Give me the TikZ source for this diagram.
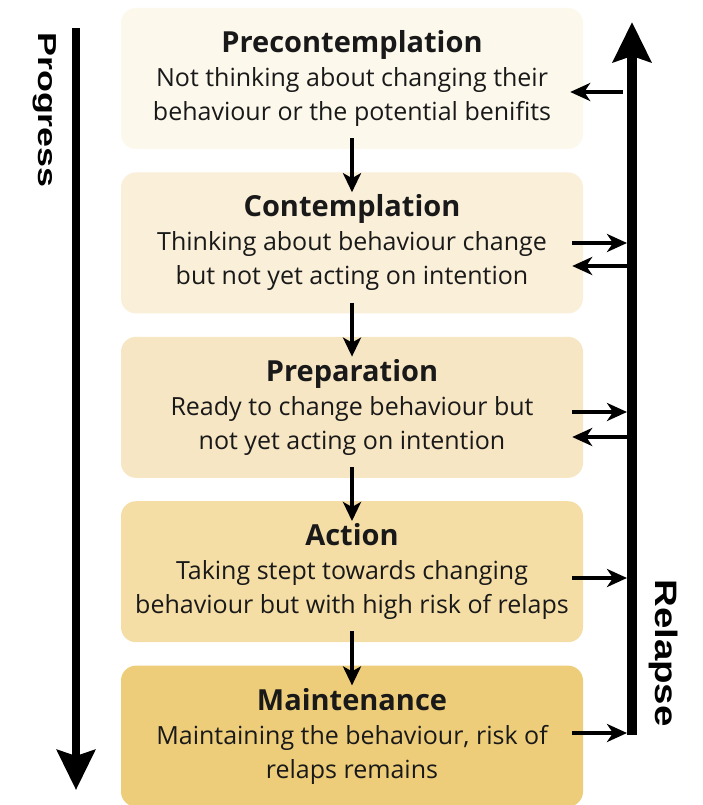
\documentclass[tikz,border=0pt]{standalone}
\usepackage{fontspec}
\setmainfont{Open Sans}
\newfontfamily\sidefont{Liberation Sans}
\usetikzlibrary{positioning}
\usetikzlibrary{calc}
\usetikzlibrary{arrows.meta}

\definecolor{stage one}{RGB}{252,248,236}
\definecolor{stage two}{RGB}{250,239,217}
\definecolor{stage three}{RGB}{247,230,195}
\definecolor{stage four}{RGB}{245,222,166}
\definecolor{stage five}{RGB}{237,205,122}
\definecolor{ink}{RGB}{25,25,25}

% Heading of a stage
\newcommand{\stagetitle}[1]{\textbf{\fontsize{29}{35}\selectfont #1}}

\tikzset{
    % One rounded box for every stage of change
    stage/.style={
        rectangle, rounded corners=15pt, inner sep=0pt, align=center,
        minimum width=462pt, minimum height=141pt, text=ink,
        font=\fontsize{25}{34}\selectfont},
%
    % Short arrows from one stage to the next
    stage arrow/.style={
        line width=4pt, -{Stealth[length=19pt, width=18pt, inset=5pt]}},
%
    % Short arrows to and from the relapse line
    side arrow/.style={
        line width=4.5pt, -{Stealth[length=20pt, width=18pt, inset=6pt]}},
%
    % The two long arrows at the sides
    long arrow/.style={
        -{Stealth[length=40pt, width=38pt, inset=6pt]}},
%
    % Rotated and stretched side labels
    side label/.style={rotate=-90, inner sep=0pt}}

\begin{document}
\begin{tikzpicture}[x=1pt, y=-1pt]
\useasboundingbox (0,0) rectangle (703,805);

% The five stages, top to bottom
\node[stage, fill=stage one] (precontemplation) at (352,78.5)
    {\stagetitle{Precontemplation}\\
     Not thinking about changing their\\
     behaviour or the potential benifits};
\node[stage, fill=stage two, below=23pt of precontemplation] (contemplation)
    {\stagetitle{Contemplation}\\
     Thinking about behaviour change\\
     but not yet acting on intention};
\node[stage, fill=stage three, below=23pt of contemplation] (preparation)
    {\stagetitle{Preparation}\\
     Ready to change behaviour but\\
     not yet acting on intention};
\node[stage, fill=stage four, below=23pt of preparation] (action)
    {\stagetitle{Action}\\
     Taking stept towards changing\\
     behaviour but with high risk of relaps};
\node[stage, fill=stage five, below=23pt of action] (maintenance)
    {\stagetitle{Maintenance}\\
     Maintaining the behaviour, risk of\\
     relaps remains};

% Moving on from stage to stage
\foreach \from/\to in {precontemplation/contemplation,
        contemplation/preparation, preparation/action, action/maintenance}
    \draw[stage arrow] ([yshift=11pt]\from.south) -- ([yshift=-20pt]\to.north);

% Progress, down the left side
\coordinate (progress top) at (76,28);
\coordinate (progress bottom) at (76,790);
\draw[long arrow, line width=8pt] (progress top) -- (progress bottom);
\node[side label, xscale=1.38, font=\sidefont\bfseries\fontsize{26}{26}\selectfont]
    (progress) at (45,110) {Progress};

% Relapse, up the right side
\coordinate (relapse bottom) at (632,735);
\coordinate (relapse top) at (632,22);
\draw[long arrow, line width=10pt] (relapse bottom) -- (relapse top);
\node[side label, xscale=1.24, font=\sidefont\bfseries\fontsize{31}{31}\selectfont]
    (relapse) at (664,653) {Relapse};

% Points where the side arrows meet the relapse line
\coordinate (back pre) at (623,92);
\coordinate (out con) at (627,243);
\coordinate (back con) at (627,266);
\coordinate (out prep) at (627,412);
\coordinate (back prep) at (627,437);
\coordinate (out act) at (627,578);
\coordinate (out main) at (627,733);

\draw[side arrow] (back pre) -- ($(precontemplation.east |- back pre)+(-13,0)$);
\draw[side arrow] ($(contemplation.east |- out con)+(-11,0)$) -- (out con);
\draw[side arrow] (back con) -- ($(contemplation.east |- back con)+(-11,0)$);
\draw[side arrow] ($(preparation.east |- out prep)+(-11,0)$) -- (out prep);
\draw[side arrow] (back prep) -- ($(preparation.east |- back prep)+(-11,0)$);
\draw[side arrow] ($(action.east |- out act)+(-11,0)$) -- (out act);
\draw[side arrow] ($(maintenance.east |- out main)+(-11,0)$) -- (out main);

\end{tikzpicture}
\end{document}
